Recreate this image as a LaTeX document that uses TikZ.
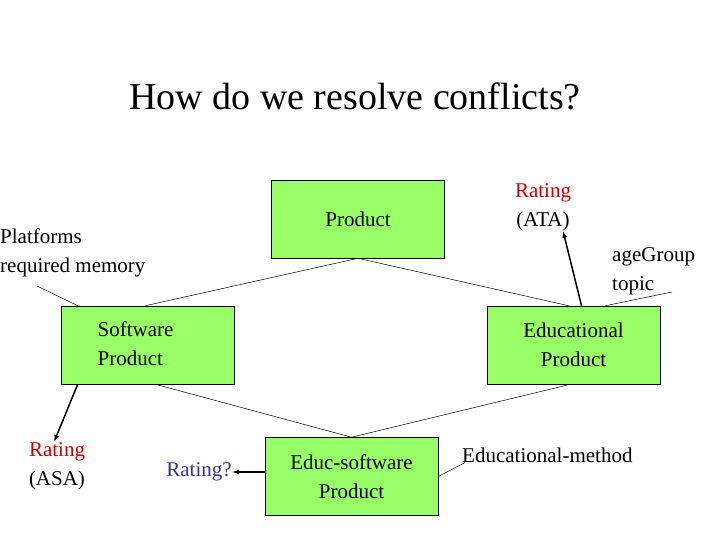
\documentclass[tikz,border=0pt]{standalone}
\usepackage{fontspec}
\setmainfont{Liberation Serif}
\usetikzlibrary{arrows.meta}
\definecolor{boxGreen}{RGB}{153,255,102}
\definecolor{ratingRed}{RGB}{204,0,0}
\definecolor{ratingBlue}{RGB}{51,51,153}
\tikzset{
  classbox/.style={draw,fill=boxGreen,line width=0.6pt,minimum width=173pt,minimum height=78pt,inner sep=0pt,align=center,font=\fontsize{21}{29}\selectfont},
  lbl/.style={inner sep=0pt,align=left,font=\fontsize{21}{29}\selectfont},
  link/.style={line width=0.5pt},
  attr/.style={-{Latex[length=7pt,width=5pt]},line width=1.5pt}
}
\begin{document}
\begin{tikzpicture}[x=1pt,y=-1pt]
\path[use as bounding box] (0,0) rectangle (720,540);

\node[font=\fontsize{38}{44}\selectfont,inner sep=0pt] (title) at (355,96) {How do we resolve conflicts?};

\node[classbox] (prod) at (358,219) {Product};
\node[classbox] (soft) at (147.5,345) {\hspace*{-24pt}\begin{tabular}{@{}l@{}}Software\\Product\end{tabular}};
\node[classbox] (educ) at (573.5,345) {Educational\\Product};
\node[classbox] (edsw) at (351.5,476.5) {Educ-software\\Product};

\draw[link] (prod.south) -- ([xshift=-2pt]soft.north);
\draw[link] (prod.south) -- ([xshift=-5pt]educ.north);
\draw[link] ([xshift=8pt]soft.south) -- (edsw.north);
\draw[link] ([xshift=-3pt]educ.south) -- (edsw.north);

% attributes
\node[lbl,anchor=west] (plat) at (0,253) {Platforms\\required memory};
\coordinate (platEnd) at (37,286);
\draw[link] (platEnd) -- ([xshift=17pt]soft.north west);

\node[lbl,anchor=west] (age) at (612,271) {ageGroup\\topic};
\coordinate (ageEnd) at (672,292);
\draw[link] (ageEnd) -- ([xshift=32pt]educ.north);

\node[lbl,anchor=west] (meth) at (462,455) {Educational-method};
\draw[link] (edsw.east) -- ([xshift=3pt]meth.south west);

% ratings
\node[lbl,align=center,text=ratingRed] (ata) at (543,207) {Rating\\\textcolor{black}{(ATA)}};
\draw[attr] ([xshift=8pt]educ.north) -- (ata.south -| 563,0);

\node[lbl,align=center,text=ratingRed] (asa) at (57,466) {Rating\\\textcolor{black}{(ASA)}};
\draw[attr] ([xshift=17pt]soft.south west) -- ([xshift=-3pt]asa.north);

\node[lbl,text=ratingBlue] (rq) at (199,472) {Rating?};
\draw[attr] (edsw.west |- rq) -- (rq.east);
\end{tikzpicture}
\end{document}
